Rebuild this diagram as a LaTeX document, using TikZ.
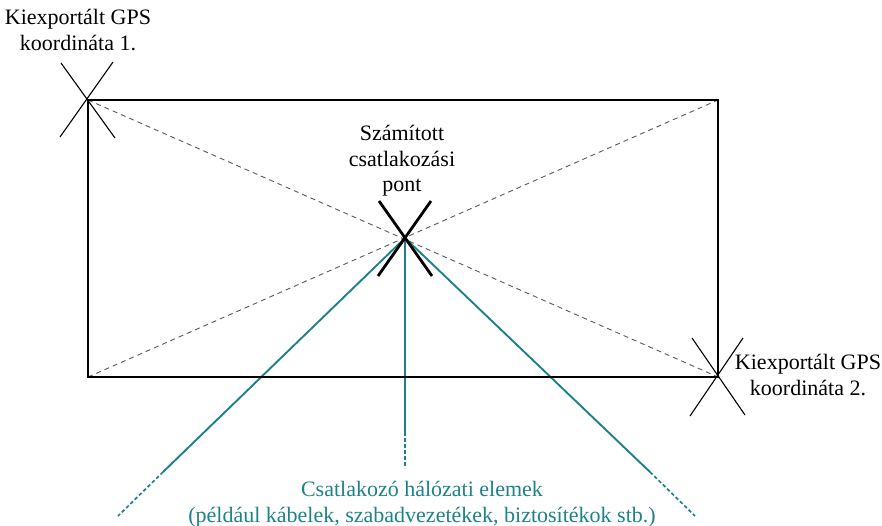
\documentclass[tikz,border=0pt]{standalone}
\usepackage{fontspec}
\setmainfont{Liberation Serif}
\definecolor{tealc}{RGB}{28,130,138}
\definecolor{dgray}{RGB}{90,90,90}
\begin{document}
\begin{tikzpicture}[x=1pt,y=-1pt,
  lbl/.style={font=\fontsize{22}{25.5}\selectfont, align=center, inner sep=0pt},
  rectline/.style={line width=2.6pt, black},
  diag/.style={line width=0.9pt, dgray, dash pattern=on 5pt off 4pt},
  xmark/.style={line width=1.1pt, black},
  xbold/.style={line width=2.8pt, black},
  net/.style={line width=1.9pt, tealc},
  netdash/.style={line width=1.7pt, tealc, dash pattern=on 3.5pt off 2.5pt}]
\useasboundingbox (0,0) rectangle (882,526);
% rectangle corners
\coordinate (A) at (88,100);
\coordinate (B) at (718,100);
\coordinate (C) at (718,377);
\coordinate (D) at (88,377);
\coordinate (M) at (405,238);
% diagonals
\draw[diag] (A) -- (C);
\draw[diag] (D) -- (B);
% network lines
\coordinate (L1) at (163,472);
\coordinate (L2) at (118,516);
\coordinate (V1) at (405,432);
\coordinate (V2) at (405,468);
\coordinate (R1) at (650,472);
\coordinate (R2) at (695,516);
\draw[net] (M) -- (L1);
\draw[netdash] (L1) -- (L2);
\draw[net] (M) -- (V1);
\draw[netdash] (V1) -- (V2);
\draw[net] (M) -- (R1);
\draw[netdash] (R1) -- (R2);
% rectangle
\draw[rectline] (A) -- (B) -- (C) -- (D) -- cycle;
% X marks
\coordinate (a1) at (61,63); \coordinate (a2) at (115,138);
\coordinate (a3) at (113,62); \coordinate (a4) at (60,137);
\draw[xmark] (a1) -- (a2);
\draw[xmark] (a3) -- (a4);
\coordinate (c1) at (692,338); \coordinate (c2) at (745,415);
\coordinate (c3) at (743,338); \coordinate (c4) at (690,416);
\draw[xmark] (c1) -- (c2);
\draw[xmark] (c3) -- (c4);
\coordinate (m1) at (379,201); \coordinate (m2) at (432,276);
\coordinate (m3) at (431,201); \coordinate (m4) at (378,276);
\draw[xbold] (m1) -- (m2);
\draw[xbold] (m3) -- (m4);
% labels
\node[lbl] (t1) at (78,30) {Kiexportált GPS\\koordináta 1.};
\node[lbl] (t2) at (402,161) {Számított\\csatlakozási\\pont};
\node[lbl] (t3) at (808,375) {Kiexportált GPS\\koordináta 2.};
\node[lbl, text=tealc] (t4) at (422,504) {Csatlakozó hálózati elemek\\(például kábelek, szabadvezetékek, biztosítékok stb.)};
\end{tikzpicture}
\end{document}
